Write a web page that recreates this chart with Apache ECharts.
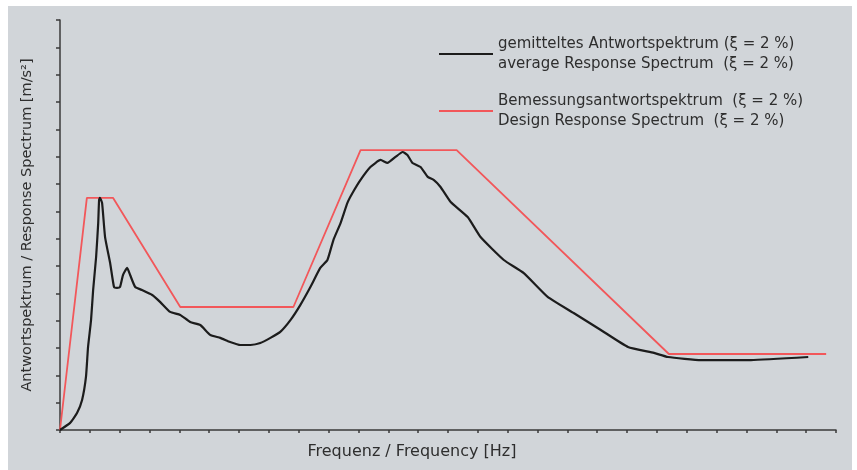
<!DOCTYPE html>
<html>
<head>
<meta charset="utf-8">
<script src="https://cdn.jsdelivr.net/npm/echarts@6/dist/echarts.min.js"></script>
<style>
html,body{margin:0;padding:0;background:#ffffff;}
#chart{width:857px;height:470px;}
</style>
</head>
<body>
<div id="chart"></div>
<script>
// Average response spectrum (black), frequency [Hz] vs response
var avgFreq = [0, 0.34, 0.57, 0.74, 0.87, 0.94, 1.04, 1.11, 1.21, 1.28, 1.31, 1.34, 1.41, 1.51, 1.68, 1.81, 1.91, 2.01, 2.11, 2.25, 2.35, 2.52, 2.75, 3.09, 3.36, 3.69, 4.03, 4.36, 4.70, 5.03, 5.37, 5.70, 6.04, 6.38, 6.71, 7.05, 7.38, 7.72, 8.05, 8.39, 8.72, 8.96, 9.16, 9.40, 9.63, 9.80, 10.07, 10.40, 10.74, 10.97, 11.24, 11.48, 11.64, 11.81, 12.08, 12.32, 12.52, 12.75, 13.09, 13.66, 14.09, 14.87, 15.54, 16.34, 17.21, 18.12, 19.03, 19.90, 20.37, 21.48, 23.15, 25.07];
var avgResp = [0, 0.26, 0.62, 1.10, 1.94, 3.04, 4.02, 5.12, 6.33, 7.57, 8.42, 8.49, 8.31, 7.06, 6.11, 5.23, 5.20, 5.23, 5.67, 5.93, 5.67, 5.23, 5.12, 4.94, 4.68, 4.32, 4.21, 3.95, 3.84, 3.48, 3.37, 3.22, 3.11, 3.11, 3.18, 3.37, 3.59, 4.02, 4.57, 5.23, 5.93, 6.22, 6.95, 7.57, 8.31, 8.67, 9.15, 9.62, 9.88, 9.77, 9.99, 10.17, 10.06, 9.77, 9.62, 9.26, 9.15, 8.89, 8.34, 7.79, 7.06, 6.22, 5.74, 4.87, 4.28, 3.66, 3.04, 2.82, 2.67, 2.56, 2.56, 2.67];
// Design response spectrum (red)
var designFreq = [0, 0.9, 1.78, 4.03, 7.82, 10.07, 13.29, 20.4, 25.67];
var designResp = [0, 8.49, 8.49, 4.5, 4.5, 10.24, 10.24, 2.78, 2.78];

var avgName = 'gemitteltes Antwortspektrum (ξ = 2 %)\naverage Response Spectrum  (ξ = 2 %)';
var designName = 'Bemessungsantwortspektrum  (ξ = 2 %)\nDesign Response Spectrum  (ξ = 2 %)';
var xTitle = 'Frequenz / Frequency [Hz]';
var yTitle = 'Antwortspektrum / Response Spectrum [m/s²]';

function pairs(xs, ys){ return xs.map(function(x,i){ return [x, ys[i]]; }); }

var chart = echarts.init(document.getElementById('chart'));
var txt = '#2e2e2e';
chart.setOption({
  backgroundColor: '#ffffff',
  animation: false,
  graphic: [{type:'rect', z:-10, silent:true, shape:{x:8,y:6,width:844,height:464}, style:{fill:'#d1d5d9'}}],
  grid: {left:60, right:21, top:20, bottom:40},
  legend: {
    orient:'vertical', left:434, top:29, icon:'rect', itemWidth:54, itemHeight:2, itemGap:17,
    textStyle:{fontFamily:'DejaVu Sans', fontSize:15, lineHeight:20, color:txt},
    data:[avgName, designName]
  },
  xAxis: {
    type:'value', min:0, max:26, interval:1,
    name:xTitle, nameLocation:'middle', nameGap:14,
    nameTextStyle:{fontFamily:'DejaVu Sans', fontSize:16, color:txt, padding:[0,72,0,0]},
    axisLine:{show:true, onZero:false, lineStyle:{color:'#3a3a3a', width:1.5}},
    axisTick:{show:true, length:3, lineStyle:{color:'#3a3a3a', width:1.5}},
    axisLabel:{show:false}, splitLine:{show:false}
  },
  yAxis: {
    type:'value', min:0, max:15, interval:1,
    name:yTitle, nameLocation:'middle', nameGap:25, nameRotate:90,
    nameTextStyle:{fontFamily:'DejaVu Sans', fontSize:14.5, color:txt},
    axisLine:{show:true, onZero:false, lineStyle:{color:'#3a3a3a', width:1.5}},
    axisTick:{show:true, length:4, lineStyle:{color:'#3a3a3a', width:1.5}},
    axisLabel:{show:false}, splitLine:{show:false}
  },
  series: [
    {name:avgName, type:'line', data:pairs(avgFreq, avgResp), showSymbol:false, symbol:'none', smooth:0.15,
     lineStyle:{color:'#1c1c1c', width:2.2}, itemStyle:{color:'#1c1c1c'}, z:3},
    {name:designName, type:'line', data:pairs(designFreq, designResp), showSymbol:false, symbol:'none',
     lineStyle:{color:'#f2575a', width:1.8}, itemStyle:{color:'#f2575a'}, z:2}
  ]
});
</script>
</body>
</html>
